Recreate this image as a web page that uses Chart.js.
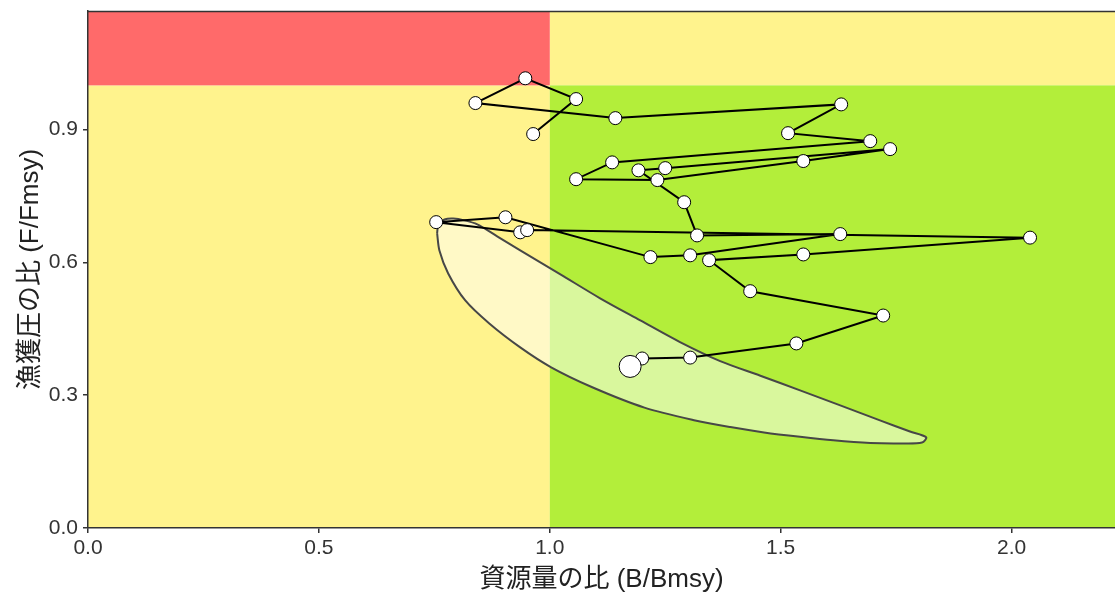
<!DOCTYPE html>
<html>
<head>
<meta charset="utf-8">
<script src="https://cdn.jsdelivr.net/npm/chart.js@4.4.1/dist/chart.umd.min.js"></script>
<style>
  html, body { margin: 0; padding: 0; background: #fff; }
  #wrap { width: 1115px; height: 595px; }
</style>
</head>
<body>
<div id="wrap"><canvas id="kobe"></canvas></div>
<script>
// 資源量の比 / 漁獲圧の比 の推移 (古い年 → 最新年)
const bRatio = [0.964, 1.057, 0.947, 0.839, 1.142, 1.631, 1.516, 1.694, 1.135, 1.057, 1.233,
                1.549, 1.737, 1.250, 1.192, 1.291, 1.319, 1.629, 1.304, 1.218, 0.904, 0.754,
                0.936, 0.951, 2.040, 1.549, 1.345, 1.434, 1.722, 1.534, 1.304, 1.200, 1.174];
const fRatio = [0.890, 0.969, 1.016, 0.960, 0.926, 0.957, 0.892, 0.874, 0.826, 0.788, 0.786,
                0.829, 0.856, 0.813, 0.808, 0.736, 0.661, 0.664, 0.616, 0.612, 0.702, 0.691,
                0.668, 0.673, 0.656, 0.618, 0.605, 0.535, 0.480, 0.417, 0.385, 0.383, 0.365];

// 最新年の信頼楕円 (外周)
const ellipseB = [0.756, 0.759, 0.772, 0.791, 0.815, 0.843, 0.886, 0.936, 1.023, 1.109, 1.196, 1.282,
                  1.369, 1.456, 1.542, 1.629, 1.715, 1.780, 1.815, 1.806, 1.759, 1.694, 1.614, 1.542,
                  1.464, 1.391, 1.315, 1.205, 1.092, 1.003, 0.936, 0.869, 0.817, 0.780, 0.761, 0.756];
const ellipseF = [0.666, 0.686, 0.697, 0.699, 0.695, 0.686, 0.659, 0.627, 0.573, 0.519, 0.469, 0.420,
                  0.377, 0.344, 0.311, 0.277, 0.243, 0.218, 0.205, 0.193, 0.191, 0.192, 0.198, 0.206,
                  0.216, 0.228, 0.243, 0.272, 0.318, 0.363, 0.408, 0.462, 0.514, 0.575, 0.627, 0.666];

// 軸
const xTicks = [0.0, 0.5, 1.0, 1.5, 2.0];
const yTicks = [0.0, 0.3, 0.6, 0.9];
const xMax = 2.224, yMax = 1.168;
const bmsyLine = 1.0, fmsyLine = 1.0;

const FONT = '"Liberation Sans", "Noto Sans CJK JP", sans-serif';

const pathPts = bRatio.map((b, i) => ({ x: b, y: fRatio[i] }));
const ellipsePts = ellipseB.map((b, i) => ({ x: b, y: ellipseF[i] }));

// 背景の4区分
const zonePlugin = {
    id: 'zones',
    beforeDraw(chart) {
        const { ctx, chartArea: a, scales: { x, y } } = chart;
        const px = x.getPixelForValue(bmsyLine);
        const py = y.getPixelForValue(fmsyLine);
        ctx.save();
        ctx.fillStyle = '#FFF38D';
        ctx.fillRect(a.left, py, px - a.left, a.bottom - py);
        ctx.fillRect(px, a.top, a.right - px, py - a.top);
        ctx.fillStyle = '#FF6A6A';
        ctx.fillRect(a.left, a.top, px - a.left, py - a.top);
        ctx.fillStyle = '#B3EE3A';
        ctx.fillRect(px, py, a.right - px, a.bottom - py);
        // 上枠
        ctx.strokeStyle = '#333';
        ctx.lineWidth = 1.5;
        ctx.beginPath();
        ctx.moveTo(a.left, a.top + 0.5);
        ctx.lineTo(a.right, a.top + 0.5);
        ctx.stroke();
        ctx.restore();
    }
};

new Chart(document.getElementById('kobe'), {
    type: 'scatter',
    data: {
        datasets: [
            {
                label: 'trajectory',
                data: pathPts,
                showLine: true,
                borderColor: '#000',
                borderWidth: 2,
                tension: 0,
                pointBackgroundColor: '#fff',
                pointBorderColor: '#000',
                pointBorderWidth: 1,
                pointRadius: pathPts.map((p, i) => i === pathPts.length - 1 ? 11 : 6.5),
                order: 0
            },
            {
                label: 'ellipse',
                data: ellipsePts,
                showLine: true,
                fill: 'shape',
                backgroundColor: 'rgba(255,255,255,0.5)',
                borderColor: '#474747',
                borderWidth: 2,
                tension: 0.3,
                pointRadius: 0,
                order: 1
            }
        ]
    },
    options: {
        responsive: true,
        maintainAspectRatio: false,
        animation: false,
        layout: { autoPadding: false, padding: { top: 11, right: 0, left: 0, bottom: 0 } },
        plugins: { legend: { display: false }, tooltip: { enabled: false } },
        scales: {
            x: {
                type: 'linear',
                min: 0, max: xMax,
                afterBuildTicks: s => { s.ticks = xTicks.map(v => ({ value: v })); },
                afterFit: s => { s.height = 67; s.paddingLeft = 0; s.paddingRight = 0; },
                ticks: {
                    callback: v => v.toFixed(1),
                    color: '#333',
                    font: { family: FONT, size: 21 },
                    padding: 3,
                    maxRotation: 0
                },
                grid: { drawOnChartArea: false, drawTicks: true, tickLength: 5, color: '#333', lineWidth: 1.5 },
                border: { display: true, color: '#333', width: 1.5 },
                title: {
                    display: true,
                    text: '資源量の比 (B/Bmsy)',
                    color: '#222',
                    font: { family: FONT, size: 26 },
                    padding: { top: 0, bottom: 0 }
                }
            },
            y: {
                type: 'linear',
                min: 0, max: yMax,
                afterBuildTicks: s => { s.ticks = yTicks.map(v => ({ value: v })); },
                afterFit: s => { s.width = 88; s.paddingTop = 0; s.paddingBottom = 0; },
                ticks: {
                    callback: v => v.toFixed(1),
                    color: '#333',
                    font: { family: FONT, size: 21 },
                    padding: 5
                },
                grid: { drawOnChartArea: false, drawTicks: true, tickLength: 5, color: '#333', lineWidth: 1.5 },
                border: { display: true, color: '#333', width: 1.5 },
                title: {
                    display: true,
                    text: '漁獲圧の比 (F/Fmsy)',
                    color: '#222',
                    font: { family: FONT, size: 26 },
                    padding: { top: 15, bottom: 0 }
                }
            }
        }
    },
    plugins: [zonePlugin]
});
</script>
</body>
</html>
